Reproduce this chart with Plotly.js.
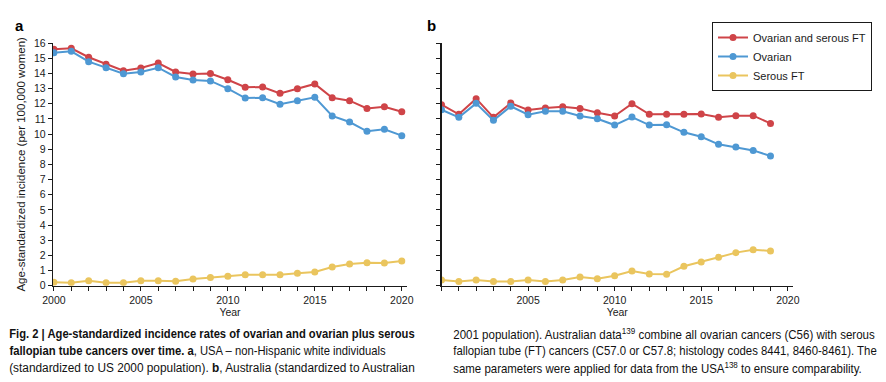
<!DOCTYPE html>
<html>
<head>
<meta charset="utf-8">
<script src="https://cdn.plot.ly/plotly-3.0.1.min.js"></script>
<style>
html,body{margin:0;padding:0;background:#fff;}
#chart{width:886px;height:382px;}
</style>
</head>
<body>
<div id="chart"></div>
<script>
// ---- Data ----
const usaYears = [2000,2001,2002,2003,2004,2005,2006,2007,2008,2009,2010,2011,2012,2013,2014,2015,2016,2017,2018,2019,2020];
const usaCombined = [15.58,15.65,15.06,14.6,14.17,14.35,14.68,14.09,13.96,13.99,13.58,13.08,13.1,12.68,12.99,13.3,12.39,12.2,11.69,11.8,11.47];
const usaOvarian  = [15.36,15.45,14.77,14.37,13.98,14.09,14.37,13.76,13.56,13.5,12.99,12.37,12.39,11.96,12.2,12.42,11.19,10.79,10.18,10.31,9.89];
const usaSerous   = [0.22,0.2,0.33,0.2,0.2,0.33,0.33,0.3,0.44,0.54,0.62,0.73,0.73,0.73,0.82,0.9,1.23,1.43,1.52,1.5,1.63];

const ausYears = [2000,2001,2002,2003,2004,2005,2006,2007,2008,2009,2010,2011,2012,2013,2014,2015,2016,2017,2018,2019];
const ausCombined = [11.93,11.3,12.33,11.1,12.04,11.58,11.71,11.8,11.69,11.4,11.19,12.0,11.3,11.3,11.3,11.32,11.1,11.21,11.21,10.7];
const ausOvarian  = [11.6,11.1,12.02,10.9,11.83,11.27,11.5,11.5,11.19,11.01,10.59,11.12,10.59,10.61,10.11,9.82,9.32,9.14,8.92,8.55];
const ausSerous   = [0.38,0.27,0.38,0.27,0.27,0.38,0.27,0.38,0.57,0.46,0.66,0.97,0.77,0.75,1.28,1.56,1.87,2.18,2.37,2.29];

const seriesNames = ["Ovarian and serous FT","Ovarian","Serous FT"];
const seriesColors = ["#cf4448","#4e98d3","#eac55e"];

const xLabelsA = [2000,2005,2010,2015,2020];
const xLabelsB = [2005,2010,2015,2020];
const yTickVals = [0,1,2,3,4,5,6,7,8,9,10,11,12,13,14,15,16];

const captionLines = [
  "<b>Fig. 2 | Age-standardized incidence rates of ovarian and ovarian plus serous</b>",
  "<b>fallopian tube cancers over time. a</b>, USA – non-Hispanic white individuals",
  "(standardized to US 2000 population). <b>b</b>, Australia (standardized to Australian",
  "2001 population). Australian data<sup>139</sup> combine all ovarian cancers (C56) with serous",
  "fallopian tube (FT) cancers (C57.0 or C57.8; histology codes 8441, 8460-8461). The",
  "same parameters were applied for data from the USA<sup>138</sup> to ensure comparability."
];

// ---- Build traces ----
const W = 886, H = 382;
const baseFam = "Liberation Sans, Arial, sans-serif";
const tickFont = {family: baseFam, size: 10.5, color: "#1a1a1a"};

function mk(x, y, i, xa, ya, showleg) {
  return {
    x: x, y: y, type: "scatter", mode: "lines+markers",
    name: seriesNames[i], xaxis: xa, yaxis: ya, showlegend: showleg,
    line: {color: seriesColors[i], width: 2},
    marker: {color: seriesColors[i], size: 7},
    hoverinfo: "x+y+name"
  };
}
const traces = [
  mk(usaYears, usaCombined, 0, "x", "y", false),
  mk(usaYears, usaOvarian, 1, "x", "y", false),
  mk(usaYears, usaSerous, 2, "x", "y", false),
  mk(ausYears, ausCombined, 0, "x2", "y2", true),
  mk(ausYears, ausOvarian, 1, "x2", "y2", true),
  mk(ausYears, ausSerous, 2, "x2", "y2", true)
];

const py = v => (H - v) / H;   // pixel-from-top -> paper y
const px = v => v / W;

const axisCommon = {
  showline: true, linecolor: "#1a1a1a", linewidth: 1.2,
  ticks: "outside", ticklen: 4, tickcolor: "#1a1a1a", tickwidth: 1,
  showgrid: false, zeroline: false, tickfont: tickFont, fixedrange: true
};
const minorX = {dtick: 1, tick0: 2000, ticks: "outside", ticklen: 4, tickcolor: "#1a1a1a", tickwidth: 1, showgrid: false};

// caption layout: left x, centre y (pixels), target width (pixels)
const capPos = [[7,334,406],[7,351,377],[7,368,406],[451,334,422],[451,351,424],[451,368,409]];

const annotations = [
  {text: "<b>a</b>", x: px(13), y: py(25), xref: "paper", yref: "paper", xanchor: "left", yanchor: "middle", showarrow: false, font: {size: 15, color: "#000", family: baseFam}},
  {text: "<b>b</b>", x: px(425), y: py(25), xref: "paper", yref: "paper", xanchor: "left", yanchor: "middle", showarrow: false, font: {size: 15, color: "#000", family: baseFam}}
];
captionLines.forEach((t, i) => {
  annotations.push({text: t, x: px(capPos[i][0]), y: py(capPos[i][1]), xref: "paper", yref: "paper",
    xanchor: "left", yanchor: "middle", showarrow: false,
    font: {size: 12.5, family: baseFam, color: "#111"}});
});

const layout = {
  width: W, height: H,
  margin: {l: 0, r: 0, t: 0, b: 0},
  paper_bgcolor: "#fff", plot_bgcolor: "#fff",
  font: {family: baseFam, color: "#1a1a1a"},
  xaxis: Object.assign({}, axisCommon, {
    domain: [px(53), px(407)], range: [1999.95, 2020.3],
    tickmode: "array", tickvals: xLabelsA, minor: minorX,
    anchor: "y",
    title: {text: "Year", font: {size: 10.5, color: "#1a1a1a"}, standoff: 4}
  }),
  yaxis: Object.assign({}, axisCommon, {
    domain: [py(285.7), py(43)], range: [0, 16],
    tickmode: "array", tickvals: yTickVals,
    anchor: "x",
    title: {text: "Age-standardized incidence (per 100,000 women)", font: {size: 11.5, family: baseFam, color: "#1a1a1a"}, standoff: 6}
  }),
  xaxis2: Object.assign({}, axisCommon, {
    domain: [px(441.5), px(793)], range: [2000, 2020.3],
    tickmode: "array", tickvals: xLabelsB, minor: minorX,
    anchor: "y2",
    title: {text: "Year", font: {size: 10.5, color: "#1a1a1a"}, standoff: 4}
  }),
  yaxis2: Object.assign({}, axisCommon, {
    domain: [py(285.7), py(43)], range: [0, 16],
    tickmode: "array", tickvals: yTickVals, showticklabels: false,
    anchor: "x2"
  }),
  legend: {
    x: px(872), y: py(22), xanchor: "right", yanchor: "top",
    bgcolor: "#fff", bordercolor: "#1a1a1a", borderwidth: 1,
    font: {size: 11, family: baseFam, color: "#1a1a1a"},
    tracegroupgap: 0, itemwidth: 30
  },
  annotations: annotations
};

Plotly.newPlot("chart", traces, layout, {displayModeBar: false, staticPlot: true}).then(() => {
  // condense caption lines horizontally to the reference's narrow typeface width
  captionLines.forEach((t, i) => {
    const g = document.querySelector('#chart g.annotation[data-index="' + (i + 2) + '"]');
    if (!g) return;
    const txt = g.querySelector('text.annotation-text');
    if (!txt) return;
    const bb = txt.getBBox();
    const s = capPos[i][2] / bb.width;
    const prev = txt.getAttribute('transform') || '';
    txt.setAttribute('transform', prev + ' translate(' + bb.x + ',0) scale(' + s + ',1) translate(' + (-bb.x) + ',0)');
  });
});
</script>
</body>
</html>
